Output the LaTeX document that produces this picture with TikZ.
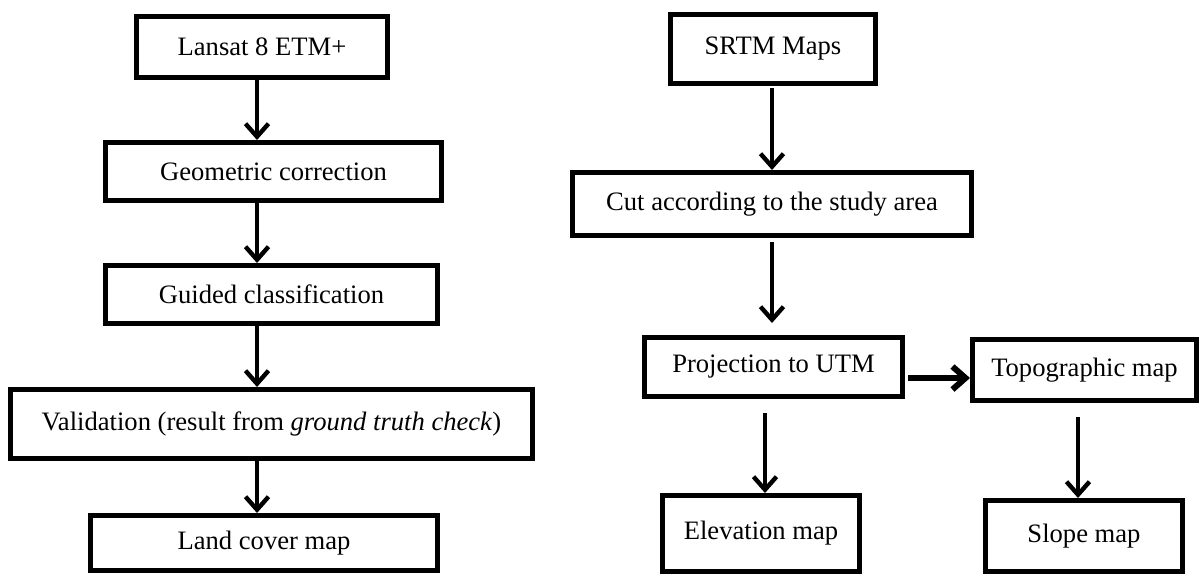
\documentclass[tikz,border=0pt]{standalone}
\usepackage{fontspec}
\setmainfont{Liberation Serif}
\usetikzlibrary{arrows.meta}
\tikzstyle{stepbox}=[draw=black,line width=2.5pt,inner sep=2pt,font=\fontsize{13.3}{15}\selectfont]
\tikzstyle{flow}=[line width=2.2pt,-{Straight Barb[length=6.5pt,width=11.5pt]}]

\begin{document}
\begin{tikzpicture}[x=0.5pt,y=-0.5pt]
  \useasboundingbox (0,0) rectangle (1201,575);

  % Landsat branch
  \node[stepbox,minimum width=125.5pt,minimum height=30.5pt] (l1) at (262,47) {Lansat 8 ETM+};
  \node[stepbox,minimum width=168pt,minimum height=29pt] (l2) at (273.5,171.5) {Geometric correction};
  \node[stepbox,minimum width=166pt,minimum height=29pt] (l3) at (271.5,294.5) {Guided classification};
  \node[stepbox,minimum width=261pt,minimum height=34.5pt] (l4) at (271.5,424) {Validation (result from \textit{ground truth check})};
  \node[stepbox,minimum width=173.5pt,minimum height=27.5pt] (l5) at (264,543) {Land cover map};

  \coordinate (lx) at (257,0);
  \foreach \a/\b in {l1/l2,l2/l3,l3/l4,l4/l5}{
    \draw[flow] (lx |- \a.south) -- (lx |- \b.north);
  }

  % SRTM branch
  \node[stepbox,minimum width=102.5pt,minimum height=34.5pt] (r1) at (773,49) {SRTM Maps};
  \node[stepbox,minimum width=199.5pt,minimum height=31.5pt] (r2) at (772,204) {Cut according to the study area};
  \node[stepbox,minimum width=129pt,minimum height=29.5pt] (r3) at (773.5,367) {Projection to UTM};
  \node[stepbox,minimum width=112pt,minimum height=30.5pt] (r4) at (1084.5,370) {Topographic map};
  \node[stepbox,minimum width=98.5pt,minimum height=38pt] (r5) at (761,533.5) {Elevation map};
  \node[stepbox,minimum width=98.5pt,minimum height=35.5pt] (r6) at (1084,536) {Slope map};

  \coordinate (rx) at (772,0);
  \coordinate (ex) at (765,0);
  \coordinate (sx) at (1078,0);
  \coordinate (hy) at (0,378);
  \draw[flow,shorten <=1pt] (rx |- r1.south) -- (rx |- r2.north);
  \draw[flow,shorten <=2pt,shorten >=6pt] (rx |- r2.south) -- (rx |- r3.north);
  \draw[flow,line width=3pt,shorten <=1.5pt] (r3.east |- hy) -- (r4.west |- hy);
  \draw[flow,shorten <=7pt] (ex |- r3.south) -- (ex |- r5.north);
  \draw[flow,shorten <=7pt] (sx |- r4.south) -- (sx |- r6.north);

\end{tikzpicture}
\end{document}
